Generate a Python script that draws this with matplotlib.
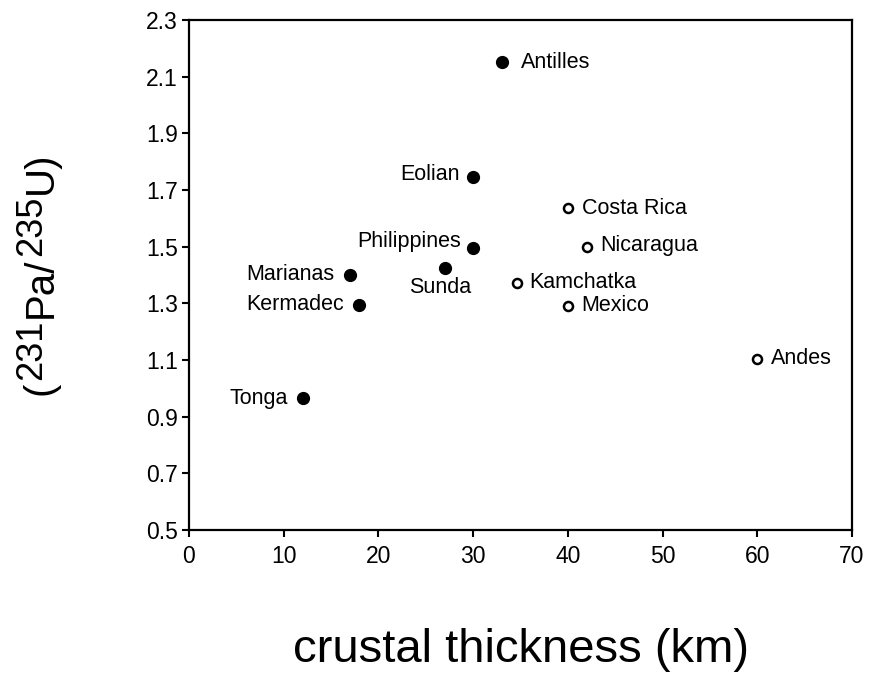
import matplotlib
matplotlib.use("Agg")
import matplotlib.pyplot as plt

plt.rcParams['font.family'] = ['Liberation Sans', 'DejaVu Sans']

# data
names_closed = ["Antilles", "Eolian", "Philippines", "Sunda", "Marianas", "Kermadec", "Tonga"]
x_closed = [33.0, 30.0, 30.0, 27.0, 17.0, 18.0, 12.0]
y_closed = [2.15, 1.745, 1.495, 1.425, 1.40, 1.295, 0.965]

names_open = ["Costa Rica", "Nicaragua", "Kamchatka", "Mexico", "Andes"]
x_open = [40.0, 42.0, 34.6, 40.0, 60.0]
y_open = [1.635, 1.50, 1.373, 1.29, 1.105]

xticks = [0, 10, 20, 30, 40, 50, 60, 70]
yticks = [0.5, 0.7, 0.9, 1.1, 1.3, 1.5, 1.7, 1.9, 2.1, 2.3]

# label placement (offset in points, ha)
label_style = {
    "Antilles": ((14, 0), "left"),
    "Eolian": ((-10, 2), "right"),
    "Philippines": ((-9, 4.5), "right"),
    "Sunda": ((-3, -14), "center"),
    "Marianas": ((-11, 0.5), "right"),
    "Kermadec": ((-11, 0), "right"),
    "Tonga": ((-11, 0), "right"),
    "Costa Rica": ((10, 0), "left"),
    "Nicaragua": ((10, 0.5), "left"),
    "Kamchatka": ((9, 0), "left"),
    "Mexico": ((10, 0.5), "left"),
    "Andes": ((10, 0), "left"),
}

W, H = 870, 673
fig = plt.figure(figsize=(W / 100, H / 100), dpi=100)
ax = fig.add_axes([189 / W, 1 - 530 / H, (852 - 189) / W, (530 - 20) / H])

ax.plot(x_closed, y_closed, 'o', color='black', markersize=8.5, linestyle='none', zorder=3)
ax.plot(x_open, y_open, 'o', markerfacecolor='white', markeredgecolor='black',
        markeredgewidth=1.8, markersize=6.5, linestyle='none', zorder=3)

for n, x, y in list(zip(names_closed, x_closed, y_closed)) + list(zip(names_open, x_open, y_open)):
    off, ha = label_style[n]
    ax.annotate(n, (x, y), xytext=off, textcoords='offset points', ha=ha, va='center',
                fontsize=15.5, color='black')

ax.set_xlim(0, 70)
ax.set_ylim(0.5, 2.3)
ax.set_xticks(xticks)
ax.set_xticklabels([str(v) for v in xticks])
ax.set_yticks(yticks)
ax.set_yticklabels([f"{v:.1f}" for v in yticks])
ax.tick_params(axis='both', direction='out', length=5, width=1.5, labelsize=16.5, colors='black')
ax.tick_params(axis='y', pad=3)
ax.tick_params(axis='x', pad=6)
for s in ax.spines.values():
    s.set_linewidth(1.6)
    s.set_color('black')

# x label
fig.text(521 / W, 11 / H, "crustal thickness (km)", ha='center', va='baseline', fontsize=34)

# y label built from pieces (rotated, reading bottom to top), centred on the reference span
renderer = fig.canvas.get_renderer()
main_fs, sup_fs = 29, 26
base_x = 52
raise_px = 11
gap = 1.5
pieces = [("(", main_fs, 0), ("231", sup_fs, raise_px), ("Pa/", main_fs, 0),
          ("235", sup_fs, raise_px), ("U)", main_fs, 0)]
texts = []
lengths = []
for s, fs, r in pieces:
    t = fig.text(0, 0, s, rotation=90, rotation_mode='anchor', ha='left', va='baseline', fontsize=fs)
    texts.append((t, r))
    lengths.append(t.get_window_extent(renderer).height)
total = sum(lengths) + gap * (len(pieces) - 1)
center_img = (142 + 405) / 2
ycur = (H - center_img) - total / 2
for (t, r), L in zip(texts, lengths):
    t.set_position(((base_x - r) / W, ycur / H))
    ycur += L + gap

fig.savefig("out.png", dpi=100)
